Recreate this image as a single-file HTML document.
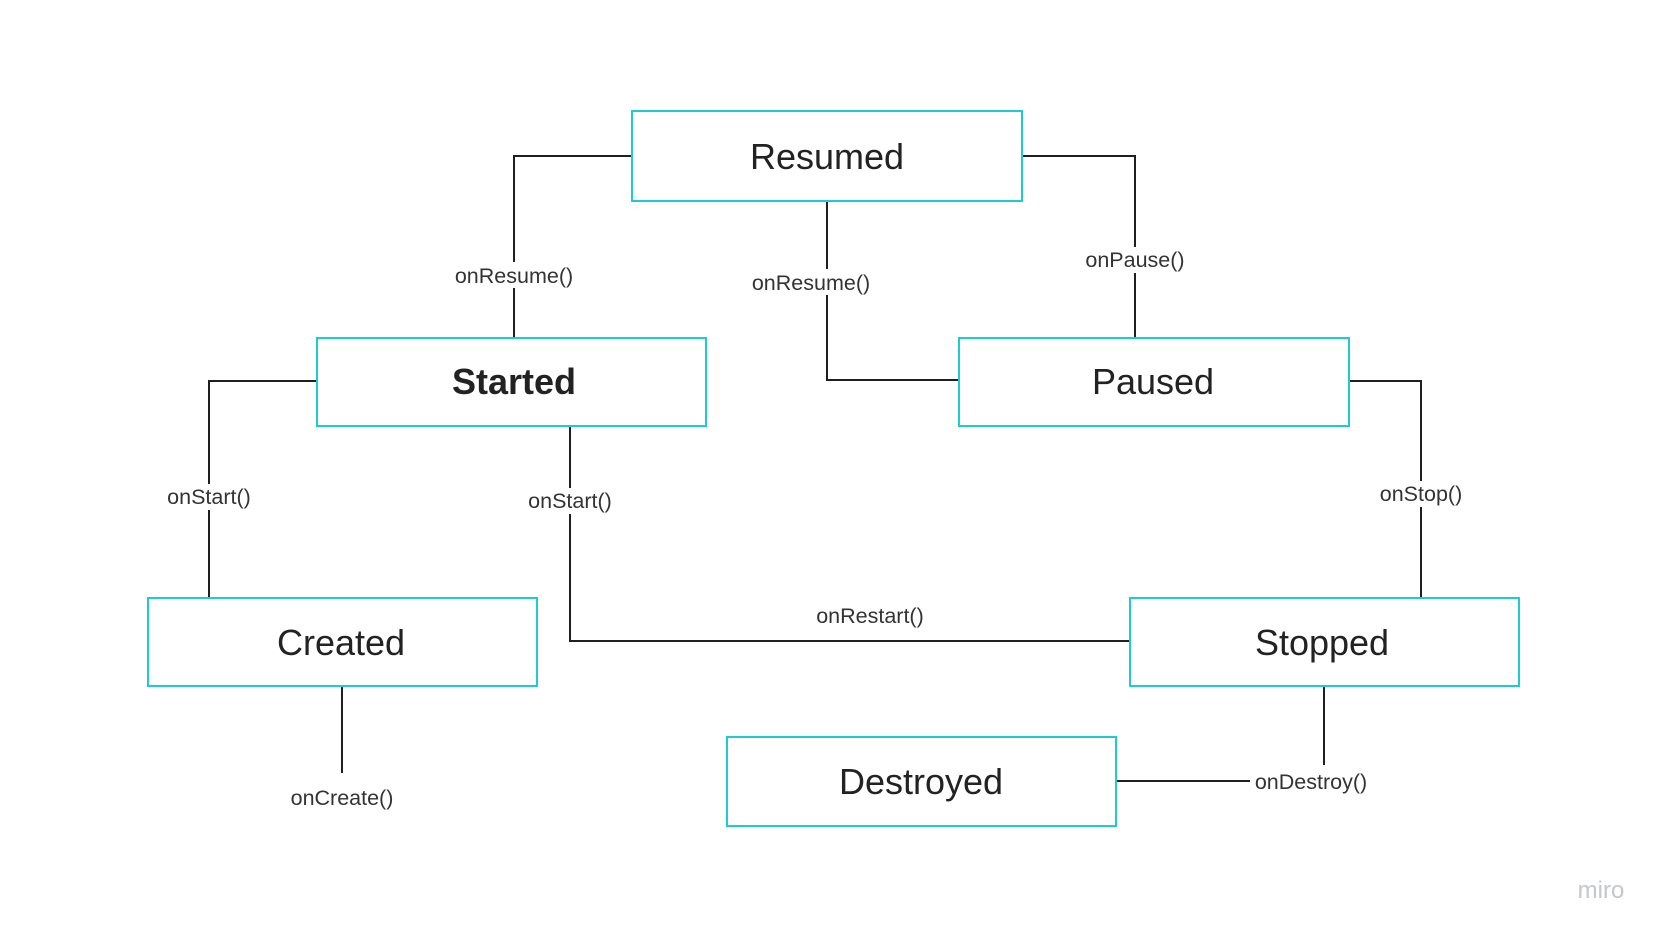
<!DOCTYPE html>
<html><head><style>
body{margin:0;width:1666px;height:937px;background:#fff;overflow:hidden;font-family:"Liberation Sans",sans-serif;}
</style></head><body>
<svg width="1666" height="937" xmlns="http://www.w3.org/2000/svg" font-family="Liberation Sans, sans-serif">
<g stroke="#1f1f1f" stroke-width="2" fill="none">
<polyline points="631,156 514,156 514,337"/>
<polyline points="827,201 827,380 958,380"/>
<polyline points="1022,156 1135,156 1135,337"/>
<polyline points="316,381 209,381 209,597"/>
<polyline points="570,426 570,641 1129,641"/>
<polyline points="1349,381 1421,381 1421,597"/>
<polyline points="342,686 342,773"/>
<polyline points="1324,686 1324,765"/>
<polyline points="1116,781 1250,781"/>
</g>
<g fill="#fff" stroke="#1ccad8" stroke-width="2">
<rect x="632" y="111" width="390" height="90"/>
<rect x="317" y="338" width="389" height="88"/>
<rect x="959" y="338" width="390" height="88"/>
<rect x="148" y="598" width="389" height="88"/>
<rect x="1130" y="598" width="389" height="88"/>
<rect x="727" y="737" width="389" height="89"/>
</g>
<g font-size="36" fill="#222" text-anchor="middle">
<text x="827" y="169">Resumed</text>
<text x="514" y="394" font-weight="bold">Started</text>
<text x="1153" y="394">Paused</text>
<text x="341" y="655">Created</text>
<text x="1322" y="655">Stopped</text>
<text x="921" y="794">Destroyed</text>
</g>
<g font-size="21.5" fill="#333" text-anchor="middle">
<rect x="449" y="262" width="130" height="26" fill="#fff"/>
<text x="514" y="283">onResume()</text>
<rect x="746" y="269" width="130" height="26" fill="#fff"/>
<text x="811" y="290">onResume()</text>
<rect x="1080" y="247" width="110" height="26" fill="#fff"/>
<text x="1135" y="267">onPause()</text>
<rect x="161" y="484" width="96" height="26" fill="#fff"/>
<text x="209" y="504">onStart()</text>
<rect x="522" y="488" width="96" height="26" fill="#fff"/>
<text x="570" y="508">onStart()</text>
<text x="870" y="623">onRestart()</text>
<rect x="1373" y="481" width="96" height="26" fill="#fff"/>
<text x="1421" y="501">onStop()</text>
<text x="342" y="805">onCreate()</text>
<rect x="1252" y="768" width="120" height="26" fill="#fff"/>
<text x="1311" y="789">onDestroy()</text>
</g>
<text x="1601" y="898" font-size="24" fill="#c4c6d0" text-anchor="middle">miro</text>
</svg>
</body></html>
